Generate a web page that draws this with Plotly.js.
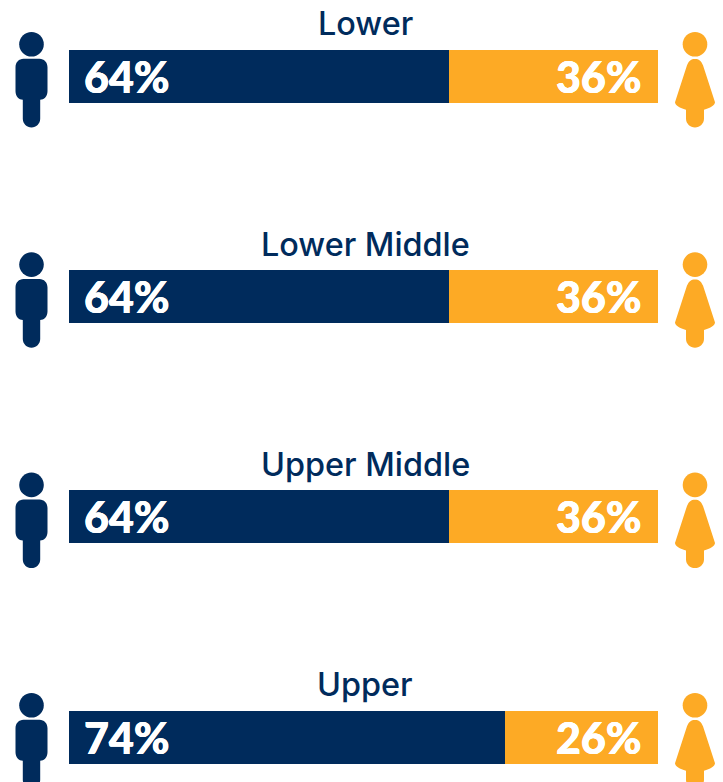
<!DOCTYPE html>
<html><head><meta charset="utf-8">
<script src="https://cdn.plot.ly/plotly-3.0.1.min.js"></script>
<style>html,body{margin:0;padding:0;background:#fff;overflow:hidden}#c{width:723px;height:782px}</style>
</head><body><div id="c"></div>
<script>
const categories = ["Lower", "Lower Middle", "Upper Middle", "Upper"];
const men = [64.5, 64.5, 64.5, 74];
const women = [35.5, 35.5, 35.5, 26];
const menLabels = ["64%", "64%", "64%", "74%"];
const womenLabels = ["36%", "36%", "36%", "26%"];
const NAVY = "#002b5c", ORANGE = "#fdaa25";
const W = 723, H = 782;
const rows = categories.map((_, i) => i);

// icon outlines, y pointing down from the bar centre, in pixels
const manPath = "M-16,-9 C-16,-14 -12.5,-17.5 -8,-17.5 L8,-17.5 C12.5,-17.5 16,-14 16,-9 L16,15 C16,20 12.5,23.5 8.7,23.5 L8.7,42.5 C8.7,47.3 4.8,51.2 0,51.2 C-4.8,51.2 -8.7,47.3 -8.7,42.5 L-8.7,23.5 C-12.5,23.5 -16,20 -16,15 Z";
const womanPath = "M-8,-11 C-6,-15.5 -4,-17.2 0,-17.2 C4,-17.2 6,-15.5 8,-11 L20,26 C20,29 15,32 9,33.5 L9,42.5 C9,47.3 4.8,51.2 0,51.2 C-4.8,51.2 -9,47.3 -9,42.5 L-9,33.5 C-15,32 -20,29 -20,26 Z";
// pixel-mode shape paths measure y upward
function neg(path){
  return path.replace(/(-?[\d.]+),(-?[\d.]+)/g,(m,x,y)=>`${x},${-parseFloat(y)}`);
}
function icon(cx, color, i, outline){
  const base = {xref:"paper", yref:"y", xsizemode:"pixel", ysizemode:"pixel",
    xanchor:cx/W, yanchor:i, fillcolor:color, line:{width:0}, layer:"above"};
  return [
    Object.assign({}, base, {type:"circle", x0:-12.3, x1:12.3, y0:19.7, y1:44.3}),
    Object.assign({}, base, {type:"path", path:neg(outline)})
  ];
}
const shapes = [];
rows.forEach(i => {
  shapes.push(...icon(31.5, NAVY, i, manPath));
  shapes.push(...icon(695, ORANGE, i, womanPath));
});

const pctFont = {family:"Lato, sans-serif", size:43, color:"#fff", weight:900,
  shadow:"0.35px 0 0 #fff, -0.35px 0 0 #fff"};
const titleFont = {family:"Inter, sans-serif", size:32.4, color:NAVY, weight:500};
const annotations = [];
rows.forEach(i => {
  annotations.push({xref:"paper", yref:"y", x:365/W, y:i, yshift:52.5, text:categories[i], showarrow:false, font:titleFont, xanchor:"center", yanchor:"middle"});
  annotations.push({xref:"x", yref:"y", x:0, y:i, xshift:13, text:menLabels[i], showarrow:false, font:pctFont, xanchor:"left", yanchor:"middle"});
  annotations.push({xref:"x", yref:"y", x:100, y:i, xshift:-15, text:womenLabels[i], showarrow:false, font:pctFont, xanchor:"right", yanchor:"middle"});
});

const spacing = 220.3, firstCentre = 76.3, barPx = 53;
Plotly.newPlot("c", [
  {type:"bar", orientation:"h", y:rows, x:men, marker:{color:NAVY, line:{width:0}}, width:barPx/spacing, hoverinfo:"skip", name:"Men"},
  {type:"bar", orientation:"h", y:rows, x:women, marker:{color:ORANGE, line:{width:0}}, width:barPx/spacing, hoverinfo:"skip", name:"Women"}
], {
  width:W, height:H, margin:{l:0,r:0,t:0,b:0}, barmode:"stack", showlegend:false,
  paper_bgcolor:"#fff", plot_bgcolor:"rgba(0,0,0,0)",
  xaxis:{domain:[69/W,658/W], range:[0,100], visible:false, fixedrange:true},
  yaxis:{range:[(H-firstCentre)/spacing, -firstCentre/spacing], visible:false, fixedrange:true},
  shapes, annotations
}, {displayModeBar:false, staticPlot:true});
</script></body></html>
